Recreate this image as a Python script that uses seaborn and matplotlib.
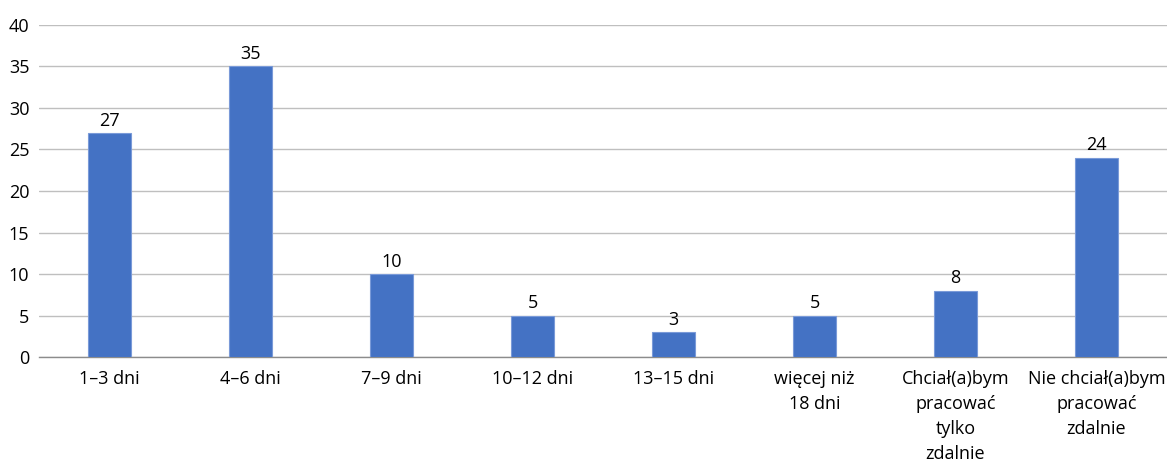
import matplotlib
matplotlib.use('Agg')
import matplotlib.pyplot as plt
import seaborn as sns
import pandas as pd

categories = ['1–3 dni', '4–6 dni', '7–9 dni', '10–12 dni', '13–15 dni',
              'więcej niż\n18 dni', 'Chciał(a)bym\npracować\ntylko\nzdalnie',
              'Nie chciał(a)bym\npracować\nzdalnie']
values = [27, 35, 10, 5, 3, 5, 8, 24]
yticks = [0, 5, 10, 15, 20, 25, 30, 35, 40]

sns.set_style('white')
plt.rcParams['font.family'] = ['Open Sans', 'DejaVu Sans']

df = pd.DataFrame({'kategoria': categories, 'liczba': values})

fig = plt.figure(figsize=(11.67, 4.67), dpi=100)
ax = fig.add_axes([0.0334, 0.2355, 0.9666, 0.711])

sns.barplot(data=df, x='kategoria', y='liczba', color='#4472C4',
            width=0.31, saturation=1, ax=ax, zorder=3,
            edgecolor='#7A9AD8', linewidth=0.8)

# etykiety wartosci nad slupkami
for i, v in enumerate(values):
    ax.text(i, v + 0.4, str(v), ha='center', va='bottom', fontsize=13,
            color='#000000', zorder=4)

ax.set_ylim(0, 40)
ax.set_xlim(-0.5, len(categories) - 0.5)
ax.set_yticks(yticks)
ax.yaxis.grid(True, color='#BFBFBF', linewidth=1, zorder=0)
ax.set_xlabel('')
ax.set_ylabel('')
for s in ['top', 'right', 'left']:
    ax.spines[s].set_visible(False)
ax.spines['bottom'].set_color('#8C8C8C')
ax.spines['bottom'].set_linewidth(1)
ax.tick_params(axis='both', length=0, labelsize=13, colors='#000000')
ax.tick_params(axis='y', pad=7)
ax.tick_params(axis='x', pad=9)
for lbl in ax.get_xticklabels():
    lbl.set_linespacing(1.5)

fig.savefig('out.png', dpi=100)
